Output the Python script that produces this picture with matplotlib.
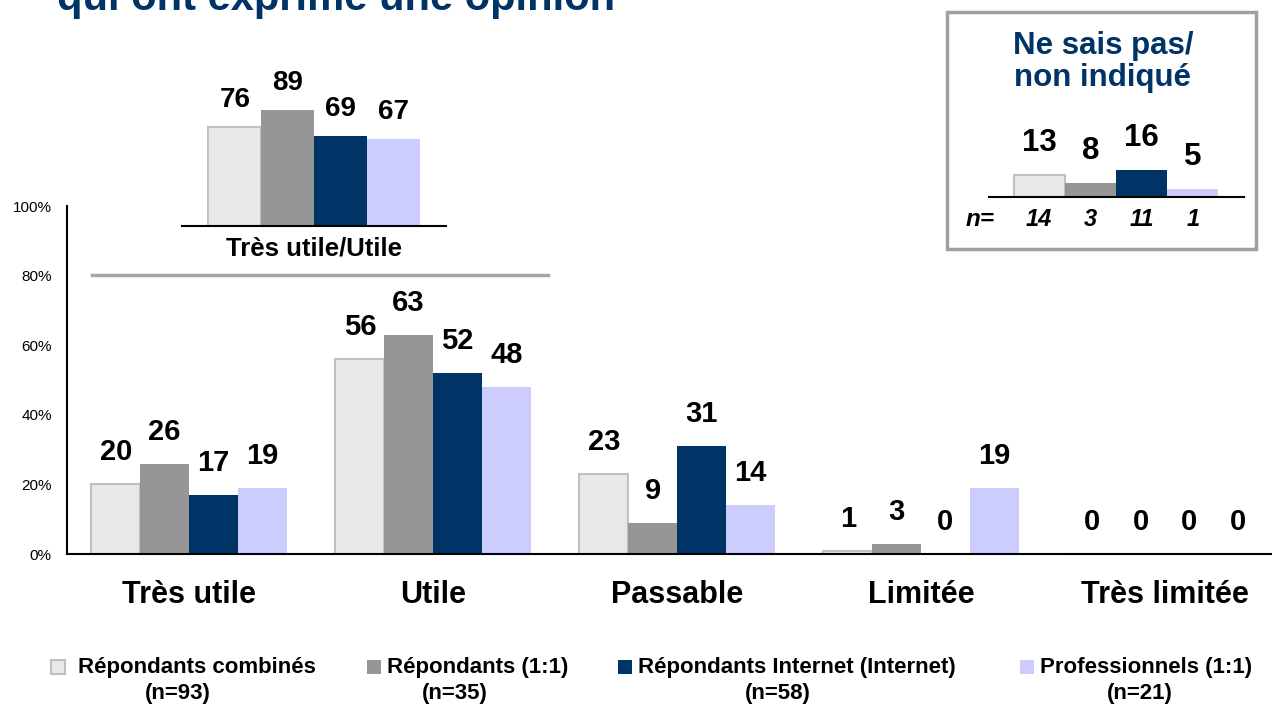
import matplotlib
matplotlib.use('Agg')
import matplotlib.pyplot as plt
import matplotlib.transforms as mtransforms
from matplotlib.patches import Rectangle
from matplotlib.lines import Line2D
import numpy as np

plt.rcParams['font.family'] = ['Liberation Sans', 'DejaVu Sans']

# Data
categories = ['Très utile', 'Utile', 'Passable', 'Limitée', 'Très limitée']
series = ['Répondants combinés', 'Répondants (1:1)',
          'Répondants Internet (Internet)', 'Professionnels (1:1)']
series_n = ['(n=93)', '(n=35)', '(n=58)', '(n=21)']
combines = [20, 56, 23, 1, 0]
repondants = [26, 63, 9, 3, 0]
internet = [17, 52, 31, 0, 0]
professionnels = [19, 48, 14, 19, 0]
utile_total = [76, 89, 69, 67]
nsp = [13, 8, 16, 5]
nsp_n = ['14', '3', '11', '1']
yticks = [0, 20, 40, 60, 80, 100]

colors = ['#e8e8e8', '#969696', '#003366', '#ccccff']
edges = ['#c0c0c0', '#969696', '#003366', '#ccccff']
edge_lw = [1.5, 0, 0, 0]
navy = '#003366'

W, H = 1272, 708


def fx(px):
    return px / W


def fy(py):
    return 1 - py / H


fig = plt.figure(figsize=(W / 100, H / 100), dpi=100)

# Title (cut off at top, as in the original slide)
fig.text(fx(57), fy(10), 'qui ont exprimé une opinion', ha='left', va='baseline',
         fontsize=30, fontweight='bold', color=navy)

# Main chart
ax = fig.add_axes([fx(67), fy(554), 1220 / W, 348 / H])
x = np.arange(len(categories))
w = 0.2
for i, vals in enumerate([combines, repondants, internet, professionnels]):
    pos = x + (i - 1.5) * w
    ax.bar(pos, vals, w, color=colors[i], edgecolor=edges[i], linewidth=edge_lw[i])
    for p, v in zip(pos, vals):
        ax.annotate(str(v), (p, v), xytext=(0, 23), textcoords='offset points',
                    ha='center', va='center', fontsize=21, fontweight='bold')
ax.set_xlim(-0.5, 4.5)
ax.set_ylim(0, 100)
ax.set_yticks(yticks)
ax.set_yticklabels([f'{v}%' for v in yticks], fontsize=11)
ax.set_xticks(x)
ax.set_xticklabels(categories, fontsize=22, fontweight='bold')
ax.tick_params(axis='y', length=0, pad=11)
ax.tick_params(axis='x', length=0, pad=19)
for s in ['top', 'right']:
    ax.spines[s].set_visible(False)
for s in ['left', 'bottom']:
    ax.spines[s].set_linewidth(1.5)
ax.patch.set_alpha(0)

# Inset: Très utile/Utile
ax2 = fig.add_axes([fx(182), fy(226), 264 / W, 130 / H])
for i, v in enumerate(utile_total):
    ax2.bar(i, v, 1, color=colors[i], edgecolor=edges[i], linewidth=edge_lw[i])
    ax2.annotate(str(v), (i, v), xytext=(0, 19.5), textcoords='offset points',
                 ha='center', va='center', fontsize=20, fontweight='bold')
ax2.set_xlim(-1, 4)
ax2.set_ylim(0, 100)
ax2.set_xticks([])
ax2.set_yticks([])
for s in ['top', 'right', 'left']:
    ax2.spines[s].set_visible(False)
ax2.spines['bottom'].set_linewidth(1.5)
ax2.patch.set_alpha(0)
ax2.text(0.5, -22 / 130, 'Très utile/Utile', transform=ax2.transAxes,
         ha='center', va='center', fontsize=18.5, fontweight='bold')

fig.add_artist(Line2D([fx(92), fx(548)], [fy(275), fy(275)], color='#a6a6a6', lw=2.5))

# Inset: Ne sais pas / non indiqué
fig.add_artist(Rectangle((fx(947), fy(249)), (1256 - 947) / W, (249 - 12) / H,
                         transform=fig.transFigure, fill=False,
                         edgecolor='#a0a0a0', lw=2.5))
fig.text(fx(1103), fy(62), 'Ne sais pas/\nnon indiqué', ha='center', va='center',
         fontsize=22.5, fontweight='bold', color=navy, linespacing=1.12)

ax3 = fig.add_axes([fx(989), fy(197), 255 / W, 34 / H])
trans3 = mtransforms.blended_transform_factory(ax3.transData, ax3.transAxes)
for i, v in enumerate(nsp):
    ax3.bar(i, v, 1, color=colors[i], edgecolor=edges[i], linewidth=edge_lw[i])
    ax3.annotate(str(v), (i, v), xytext=(0, 23), textcoords='offset points',
                 ha='center', va='center', fontsize=22.5, fontweight='bold')
    ax3.text(i, -23 / 34, nsp_n[i], transform=trans3, ha='center', va='center',
             fontsize=17, fontweight='bold', fontstyle='italic')
ax3.set_xlim(-0.98, 4.0)
ax3.set_ylim(0, 20)
ax3.set_xticks([])
ax3.set_yticks([])
for s in ['top', 'right', 'left']:
    ax3.spines[s].set_visible(False)
ax3.spines['bottom'].set_linewidth(1.5)
ax3.patch.set_alpha(0)
fig.text(fx(980), fy(220), 'n=', ha='center', va='center', fontsize=17.5,
         fontweight='bold', fontstyle='italic')

# Legend
sq_left = [51, 367, 618, 1020]
name_left = [78, 387, 638, 1040]
n_center = [178, 455, 778, 1140]
for i in range(4):
    fig.add_artist(Rectangle((fx(sq_left[i]), fy(674)), 14 / W, 14 / H,
                             transform=fig.transFigure, facecolor=colors[i],
                             edgecolor=edges[i], lw=edge_lw[i]))
    fig.text(fx(name_left[i]), fy(668), series[i], ha='left', va='center',
             fontsize=16, fontweight='bold')
    fig.text(fx(n_center[i]), fy(694), series_n[i], ha='center', va='center',
             fontsize=16, fontweight='bold')

fig.savefig('out.png', dpi=100)
